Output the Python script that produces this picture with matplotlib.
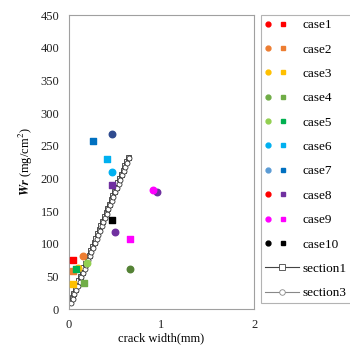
import matplotlib
matplotlib.use("Agg")
import matplotlib.pyplot as plt
from matplotlib.lines import Line2D
from matplotlib.legend_handler import HandlerBase

plt.rcParams['font.family'] = ['Liberation Serif', 'DejaVu Serif']
plt.rcParams['mathtext.fontset'] = 'stix'

cases = ['case1', 'case2', 'case3', 'case4', 'case5',
         'case6', 'case7', 'case8', 'case9', 'case10']
circle_colors = ['#ff0000', '#ed7d31', '#ffc000', '#548235', '#92d050',
                 '#00b0f0', '#2f4b8f', '#7030a0', '#ff00ff', '#000000']
legend_circle_colors = ['#ff0000', '#ed7d31', '#ffc000', '#70ad47', '#92d050',
                        '#00b0f0', '#5b9bd5', '#ff0000', '#ff00ff', '#000000']
square_colors = ['#ff0000', '#ed7d31', '#ffc000', '#70ad47', '#00b050',
                 '#00b0f0', '#0070c0', '#7030a0', '#ff00ff', '#000000']

# measured points (crack width mm, Wr mg/cm2)
circle_x = [[], [0.155], [0.10], [0.656], [0.20], [0.46], [0.46], [0.50, 0.955], [0.905], []]
circle_y = [[], [81], [63], [61], [71], [210], [268], [118, 180], [183], []]
square_x = [[0.04], [0.04], [0.04], [0.166], [0.08], [0.41], [0.26], [0.46], [0.66], [0.46]]
square_y = [[75], [58], [38], [40], [62], [230], [258], [190], [108], [137]]

sec1_x = [0.011, 0.029, 0.047, 0.066, 0.084, 0.102, 0.121, 0.139, 0.157, 0.176,
          0.194, 0.212, 0.231, 0.249, 0.267, 0.286, 0.304, 0.322, 0.340, 0.359,
          0.377, 0.396, 0.414, 0.432, 0.451, 0.469, 0.487, 0.506, 0.524, 0.542,
          0.561, 0.579, 0.597, 0.616, 0.634]
sec1_y = [12, 18, 25, 31, 38, 44, 51, 57, 64, 70, 77, 83, 90, 96, 103, 109, 116,
          122, 129, 135, 142, 148, 155, 161, 168, 174, 181, 187, 194, 200, 207,
          213, 220, 226, 233]
sec3_x = [0.023, 0.041, 0.059, 0.078, 0.096, 0.114, 0.133, 0.151, 0.169, 0.188,
          0.206, 0.224, 0.243, 0.261, 0.279, 0.298, 0.316, 0.334, 0.352, 0.371,
          0.389, 0.408, 0.426, 0.444, 0.463, 0.481, 0.499, 0.518, 0.536, 0.554,
          0.573, 0.591, 0.609, 0.628, 0.646]
sec3_y = [10, 16, 23, 29, 36, 42, 49, 55, 62, 68, 75, 81, 88, 94, 101, 107, 114,
          120, 127, 133, 140, 146, 153, 159, 166, 172, 179, 185, 192, 198, 205,
          211, 218, 224, 231]


class Pair:
    def __init__(self, c1, c2):
        self.c1 = c1
        self.c2 = c2


class PairHandler(HandlerBase):
    def create_artists(self, legend, orig_handle, xdescent, ydescent,
                       width, height, fontsize, trans):
        y = height / 2 - ydescent
        a = Line2D([0.09 * width - xdescent], [y], ls='none', marker='o',
                   ms=3.5, color=orig_handle.c1, transform=trans)
        b = Line2D([0.53 * width - xdescent], [y], ls='none', marker='s',
                   ms=3.5, color=orig_handle.c2, transform=trans)
        return [a, b]


fig = plt.figure(figsize=(3.5, 3.49), dpi=100)
ax = fig.add_axes([0.197, 0.114, 0.529, 0.843])

ax.plot(sec1_x, sec1_y, color='black', lw=0.8, marker='s', ms=3.6,
        mfc='white', mec='#333333', mew=0.6)
ax.plot(sec3_x, sec3_y, color='black', lw=0.8, marker='o', ms=3.6,
        mfc='white', mec='#333333', mew=0.6)

for i in range(len(cases)):
    ax.scatter(circle_x[i], circle_y[i], s=22, marker='o', color=circle_colors[i], zorder=3)
    ax.scatter(square_x[i], square_y[i], s=22, marker='s', color=square_colors[i], zorder=3)

ax.set_xlim(0, 2)
ax.set_ylim(0, 450)
ax.set_xticks([0, 1, 2])
ax.set_yticks(range(0, 451, 50))
ax.tick_params(length=0, labelsize=9, colors='#222222')
ax.tick_params(axis='x', pad=7)
ax.tick_params(axis='y', pad=7)
for sp in ax.spines.values():
    sp.set_color('#a0a0a0')
ax.set_xlabel('crack width(mm)', fontsize=9, labelpad=1)
ax.set_ylabel(r'$\mathbfit{Wr}$ (mg/cm$^2$)', fontsize=9)

handles = []
labels = []
for i in range(len(cases)):
    handles.append(Pair(legend_circle_colors[i], square_colors[i]))
    labels.append(cases[i])
handles.append(Line2D([], [], color='#444444', lw=0.8, marker='s', ms=4,
                      mfc='white', mec='#444444', mew=0.6))
labels.append('section1')
handles.append(Line2D([], [], color='#888888', lw=0.8, marker='o', ms=4,
                      mfc='white', mec='#888888', mew=0.6))
labels.append('section3')

leg = fig.legend(handles, labels, loc='upper left', bbox_to_anchor=(0.745, 0.957),
                 handler_map={Pair: PairHandler()},
                 fontsize=9.5, frameon=True, fancybox=False, edgecolor='#a0a0a0',
                 handlelength=2.6, labelspacing=0.92, borderpad=0.3,
                 handletextpad=0.3, borderaxespad=0)
leg.get_frame().set_linewidth(0.8)

fig.savefig('out.png', dpi=100)
